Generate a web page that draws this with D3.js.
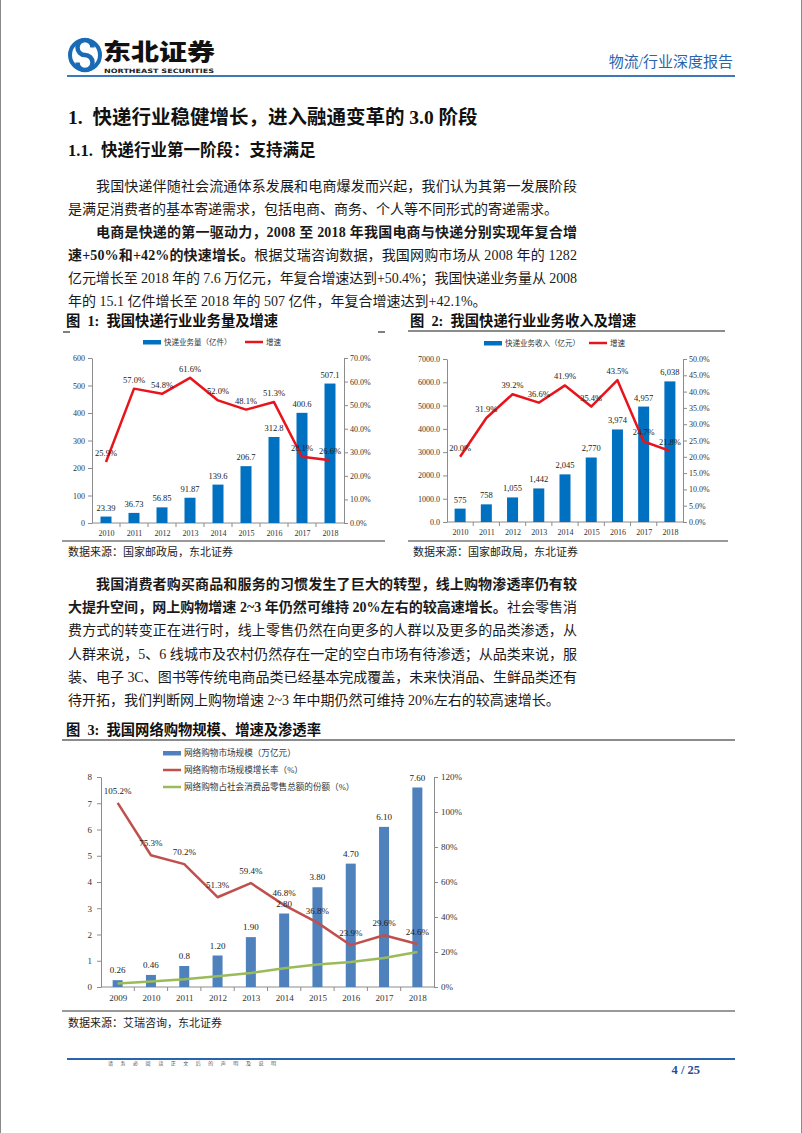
<!DOCTYPE html>
<html><head><meta charset="utf-8">
<script src="https://cdn.jsdelivr.net/npm/d3@7"></script>
<style>
html,body{margin:0;padding:0;background:#fff;}
svg{display:block;}
text{white-space:pre;}
</style></head><body>
<svg id="page" width="802" height="1133"></svg>
<script>
// ---------- data ----------
const years1 = ["2010","2011","2012","2013","2014","2015","2016","2017","2018"];
const volume = [23.39, 36.73, 56.85, 91.87, 139.6, 206.7, 312.8, 400.6, 507.1];
const volumeLabels = ["23.39","36.73","56.85","91.87","139.6","206.7","312.8","400.6","507.1"];
const volumeGrowth = [25.9, 57.0, 54.8, 61.6, 52.0, 48.1, 51.3, 28.1, 26.6];
const volTicksL = [0,100,200,300,400,500,600];
const volTicksR = [0,10,20,30,40,50,60,70];

const revenue = [575, 758, 1055, 1442, 2045, 2770, 3974, 4957, 6038];
const revenueGrowth = [20.0, 31.9, 39.2, 36.6, 41.9, 35.4, 43.5, 24.7, 21.8];
const revTicksL = [0,1000,2000,3000,4000,5000,6000,7000];
const revTicksR = [0,5,10,15,20,25,30,35,40,45,50];

const years3 = ["2009","2010","2011","2012","2013","2014","2015","2016","2017","2018"];
const online = [0.26, 0.46, 0.8, 1.20, 1.90, 2.80, 3.80, 4.70, 6.10, 7.60];
const onlineLabels = ["0.26","0.46","0.8","1.20","1.90","2.80","3.80","4.70","6.10","7.60"];
const onlineGrowth = [105.2, 75.3, 70.2, 51.3, 59.4, 46.8, 36.8, 23.9, 29.6, 24.6];
const onlineShare = [2.0, 3.2, 4.4, 6.1, 8.0, 10.7, 12.9, 14.3, 16.6, 20.0];
const onTicksL = [0,1,2,3,4,5,6,7,8];
const onTicksR = [0,20,40,60,80,100,120];

const SERIF = "'Liberation Serif','Times New Roman','Noto Sans CJK SC',serif";
const CJK = "'Liberation Serif','Noto Sans CJK SC',sans-serif";

const svg = d3.select("#page");
svg.append("rect").attr("x",0.5).attr("y",-2).attr("width",801).attr("height",1140)
  .attr("fill","#fff").attr("stroke","#8a8a8a").attr("stroke-width",1);

// ---------- header ----------
const logo = svg.append("g");
logo.append("circle").attr("cx",85).attr("cy",55).attr("r",15).attr("fill","none")
  .attr("stroke","#1a6bb5").attr("stroke-width",4);
logo.append("path").attr("d","M92.5,47.5 A7.5 7.5 0 1 0 85,55 A7.5 7.5 0 1 1 77.5,62.5")
  .attr("fill","none").attr("stroke","#1a6bb5").attr("stroke-width",4.5);
svg.append("text").attr("x",103).attr("y",60).text("东北证券")
  .attr("font-family","'Noto Sans CJK SC',sans-serif").attr("font-weight",900)
  .attr("font-size",23).attr("fill","#111")
  .attr("textLength",112).attr("lengthAdjust","spacingAndGlyphs");
svg.append("text").attr("x",104).attr("y",73).text("NORTHEAST SECURITIES")
  .attr("font-family","'DejaVu Sans',sans-serif").attr("font-weight","bold")
  .attr("font-size",6).attr("fill","#222").attr("textLength",110).attr("lengthAdjust","spacingAndGlyphs");
svg.append("text").attr("x",733).attr("y",67).attr("text-anchor","end").text("物流/行业深度报告")
  .attr("font-family",CJK).attr("font-size",15).attr("fill","#2a64ad");
svg.append("line").attr("x1",67).attr("x2",735).attr("y1",76).attr("y2",76)
  .attr("stroke","#3f78b8").attr("stroke-width",2);

// ---------- headings & paragraphs ----------
function txt(x,y,parts,size,opts={}){
  const t = svg.append("text").attr("x",x).attr("y",y).attr("font-family",CJK)
    .attr("font-size",size).attr("fill",opts.fill||"#1a1a1a");
  if(opts.len){ t.attr("textLength",opts.len).attr("lengthAdjust","spacing"); }
  parts.forEach(p=>{
    t.append("tspan").text(p[0]).attr("font-weight",p[1]?"bold":"normal");
  });
  return t;
}
txt(68,124,[["1.  快递行业稳健增长，进入融通变革的 3.0 阶段",1]],19.5,{fill:"#111"});
txt(68,156,[["1.1.  快递行业第一阶段：支持满足",1]],16.5,{fill:"#111"});

const L=68, R=577, FS=14, IND=28;
const para1 = [
  {t:[["我国快递伴随社会流通体系发展和电商爆发而兴起，我们认为其第一发展阶段",0]], ind:1, j:1},
  {t:[["是满足消费者的基本寄递需求，包括电商、商务、个人等不同形式的寄递需求。",0]], ind:0, j:0},
  {t:[["电商是快递的第一驱动力，2008 至 2018 年我国电商与快递分别实现年复合增",1]], ind:1, j:1},
  {t:[["速+50%和+42%的快速增长。",1],["根据艾瑞咨询数据，我国网购市场从 2008 年的 1282",0]], ind:0, j:1},
  {t:[["亿元增长至 2018 年的 7.6 万亿元，年复合增速达到+50.4%；我国快递业务量从 2008",0]], ind:0, j:1},
  {t:[["年的 15.1 亿件增长至 2018 年的 507 亿件，年复合增速达到+42.1%。",0]], ind:0, j:0}
];
para1.forEach((l,i)=>{
  const x = L + (l.ind?IND:0);
  txt(x, 191 + i*23, l.t, FS, l.j?{len:R-x}:{});
});
const para2 = [
  {t:[["我国消费者购买商品和服务的习惯发生了巨大的转型，线上购物渗透率仍有较",1]], ind:1, j:1},
  {t:[["大提升空间，网上购物增速 2~3 年仍然可维持 20%左右的较高速增长。",1],["社会零售消",0]], ind:0, j:1},
  {t:[["费方式的转变正在进行时，线上零售仍然在向更多的人群以及更多的品类渗透，从",0]], ind:0, j:1},
  {t:[["人群来说，5、6 线城市及农村仍然存在一定的空白市场有待渗透；从品类来说，服",0]], ind:0, j:1},
  {t:[["装、电子 3C、图书等传统电商品类已经基本完成覆盖，未来快消品、生鲜品类还有",0]], ind:0, j:1},
  {t:[["待开拓，我们判断网上购物增速 2~3 年中期仍然可维持 20%左右的较高速增长。",0]], ind:0, j:0}
];
para2.forEach((l,i)=>{
  const x = L + (l.ind?IND:0);
  txt(x, 589 + i*23.2, l.t, FS, l.j?{len:R-x}:{});
});

// ---------- chart titles / rules / sources ----------
txt(66,326,[["图  1:  我国快递行业业务量及增速",1]],14.3,{fill:"#111"});
txt(410,326,[["图  2:  我国快递行业业务收入及增速",1]],14.3,{fill:"#111"});
svg.append("line").attr("x1",63).attr("x2",70).attr("y1",332).attr("y2",332).attr("stroke","#555").attr("stroke-width",1.5);
svg.append("line").attr("x1",378).attr("x2",385).attr("y1",332).attr("y2",332).attr("stroke","#555").attr("stroke-width",1.5);
svg.append("line").attr("x1",408).attr("x2",725).attr("y1",331).attr("y2",331).attr("stroke","#666").attr("stroke-width",1.5);
svg.append("line").attr("x1",62).attr("x2",385).attr("y1",541).attr("y2",541).attr("stroke","#777").attr("stroke-width",1.5);
svg.append("line").attr("x1",408).attr("x2",728).attr("y1",541).attr("y2",541).attr("stroke","#777").attr("stroke-width",1.5);
txt(68,556,[["数据来源：国家邮政局，东北证券",0]],11,{fill:"#222"});
txt(413,556,[["数据来源：国家邮政局，东北证券",0]],11,{fill:"#222"});

txt(66,735,[["图  3:  我国网络购物规模、增速及渗透率",1]],14.3,{fill:"#111"});
svg.append("line").attr("x1",62).attr("x2",735).attr("y1",740).attr("y2",740).attr("stroke","#666").attr("stroke-width",1.5);
svg.append("line").attr("x1",62).attr("x2",735).attr("y1",1011).attr("y2",1011).attr("stroke","#777").attr("stroke-width",1.5);
txt(68,1027,[["数据来源：艾瑞咨询，东北证券",0]],11,{fill:"#222"});

// ---------- footer ----------
svg.append("line").attr("x1",67).attr("x2",735).attr("y1",1059).attr("y2",1059)
  .attr("stroke","#2a64ad").attr("stroke-width",2);
svg.append("text").attr("x",108).attr("y",1065).text("请务必阅读正文后的声明及说明")
  .attr("font-family",CJK).attr("font-size",5).attr("fill","#555")
  .attr("textLength",168).attr("lengthAdjust","spacing");
svg.append("text").attr("x",700).attr("y",1074).attr("text-anchor","end").text("4 / 25")
  .attr("font-family",SERIF).attr("font-weight","bold").attr("font-size",12.5).attr("fill","#1f4e9a");

// ---------- combo chart ----------
function combo(c){
  const g = svg.append("g");
  const x = d3.scalePoint().domain(c.cats).range([c.x0,c.x1]).padding(0.5);
  const step = x.step();
  const yL = d3.scaleLinear().domain([0,c.lMax]).range([c.yBot,c.yTop]);
  const yR = d3.scaleLinear().domain([0,c.rMax]).range([c.yBot,c.yTop]);
  const axisCol = "#8c8c8c";
  const aL = g.append("g").attr("transform",`translate(${c.x0},0)`)
    .call(d3.axisLeft(yL).tickValues(c.lTicks).tickFormat(c.lFmt).tickSize(4).tickSizeOuter(0));
  const aR = g.append("g").attr("transform",`translate(${c.x1},0)`)
    .call(d3.axisRight(yR).tickValues(c.rTicks).tickFormat(c.rFmt).tickSize(4).tickSizeOuter(0));
  [aL,aR].forEach(a=>{
    a.selectAll("path,line").attr("stroke",axisCol);
    a.selectAll("text").attr("font-family",SERIF).attr("font-size",c.fs).attr("fill","#333");
  });
  aL.selectAll("text").attr("x",-c.lPad);
  aR.selectAll("text").attr("x",c.rPad);
  const aB = g.append("g").attr("transform",`translate(0,${c.yBot})`)
    .call(d3.axisBottom(x).tickSize(0).tickSizeOuter(0));
  aB.select("path").attr("stroke",axisCol).attr("d",`M${c.x0},0H${c.x1}`);
  aB.selectAll("text").attr("font-family",SERIF).attr("font-size",c.fs).attr("fill","#333").attr("dy",c.xDy);
  g.selectAll(".btick").data(c.cats.slice(1)).enter().append("line")
    .attr("x1",d=>x(d)-step/2).attr("x2",d=>x(d)-step/2)
    .attr("y1",c.yBot).attr("y2",c.yBot+4).attr("stroke",axisCol);
  const data = c.cats.map((d,i)=>({cat:d, v:c.bars[i], lab:c.barLabels[i]}));
  g.selectAll(".bar").data(data).enter().append("rect")
    .attr("x",d=>x(d.cat)-c.barW/2).attr("width",c.barW)
    .attr("y",d=>yL(d.v)).attr("height",d=>c.yBot-yL(d.v)).attr("fill",c.barCol);
  c.lines.forEach(s=>{
    const pts = c.cats.map((d,i)=>[x(d), yR(s.vals[i])]);
    g.append("path").attr("d",d3.line()(pts)).attr("fill","none")
      .attr("stroke",s.col).attr("stroke-width",s.w).attr("stroke-linejoin","round");
  });
  g.selectAll(".blab").data(data).enter().append("text")
    .attr("x",d=>x(d.cat)).attr("y",d=>yL(d.v)-c.bOff).attr("text-anchor","middle")
    .text(d=>d.lab).attr("font-family",SERIF).attr("font-size",c.lfs).attr("fill","#222");
  c.lines.filter(s=>s.lab).forEach(s=>{
    g.selectAll(null).data(c.cats).enter().append("text")
      .attr("x",d=>x(d)).attr("y",(d,i)=>yR(s.vals[i])-c.pOff).attr("text-anchor","middle")
      .text((d,i)=>d3.format(".1f")(s.vals[i])+"%")
      .attr("font-family",SERIF).attr("font-size",c.lfs).attr("fill","#222");
  });
  return g;
}

combo({cats:years1, x0:92, x1:344, yTop:358, yBot:523,
  lMax:600, lTicks:volTicksL, lFmt:d3.format("d"),
  rMax:70, rTicks:volTicksR, rFmt:d=>d3.format(".1f")(d)+"%",
  lPad:7, rPad:6, fs:8, lfs:8.5, xDy:"1.25em",
  bars:volume, barLabels:volumeLabels, barCol:"#0070c0", barW:11,
  lines:[{vals:volumeGrowth, col:"#e8141b", w:2.5, lab:true}], bOff:6, pOff:6});

combo({cats:years1, x0:447, x1:683, yTop:359, yBot:522,
  lMax:7000, lTicks:revTicksL, lFmt:d3.format(".1f"),
  rMax:50, rTicks:revTicksR, rFmt:d=>d3.format(".1f")(d)+"%",
  lPad:7, rPad:6, fs:8, lfs:8.5, xDy:"1.25em",
  bars:revenue, barLabels:revenue.map(d3.format(",")), barCol:"#0070c0", barW:11,
  lines:[{vals:revenueGrowth, col:"#e8141b", w:2.5, lab:true}], bOff:6, pOff:6});

combo({cats:years3, x0:101, x1:434, yTop:777, yBot:987,
  lMax:8, lTicks:onTicksL, lFmt:d3.format("d"),
  rMax:120, rTicks:onTicksR, rFmt:d=>d+"%",
  lPad:9, rPad:7, fs:9, lfs:9, xDy:"1.2em",
  bars:online, barLabels:onlineLabels, barCol:"#4f81bd", barW:10,
  lines:[{vals:onlineGrowth, col:"#c0504d", w:2.5, lab:true},
         {vals:onlineShare, col:"#9bbb59", w:2.5, lab:false}], bOff:7, pOff:9});

// ---------- legends ----------
function legItem(x,y,type,col,label,fs){
  if(type==="rect") svg.append("rect").attr("x",x).attr("y",y-2).attr("width",18).attr("height",4.5).attr("fill",col);
  else svg.append("line").attr("x1",x).attr("x2",x+18).attr("y1",y).attr("y2",y).attr("stroke",col).attr("stroke-width",2.5);
  svg.append("text").attr("x",x+21).attr("y",y+fs*0.38).text(label)
    .attr("font-family",CJK).attr("font-size",fs).attr("fill","#333");
}
legItem(143,342,"rect","#0070c0","快递业务量（亿件）",7.5);
legItem(245,342,"line","#e8141b","增速",7.5);
legItem(484,343,"rect","#0070c0","快递业务收入（亿元）",7.5);
legItem(589,343,"line","#e8141b","增速",7.5);
legItem(163,753,"rect","#4f81bd","网络购物市场规模（万亿元）",8.6);
legItem(163,770,"line","#c0504d","网络购物市场规模增长率（%）",8.6);
legItem(163,787,"line","#9bbb59","网络购物占社会消费品零售总额的份额（%）",8.6);
</script>
</body></html>
